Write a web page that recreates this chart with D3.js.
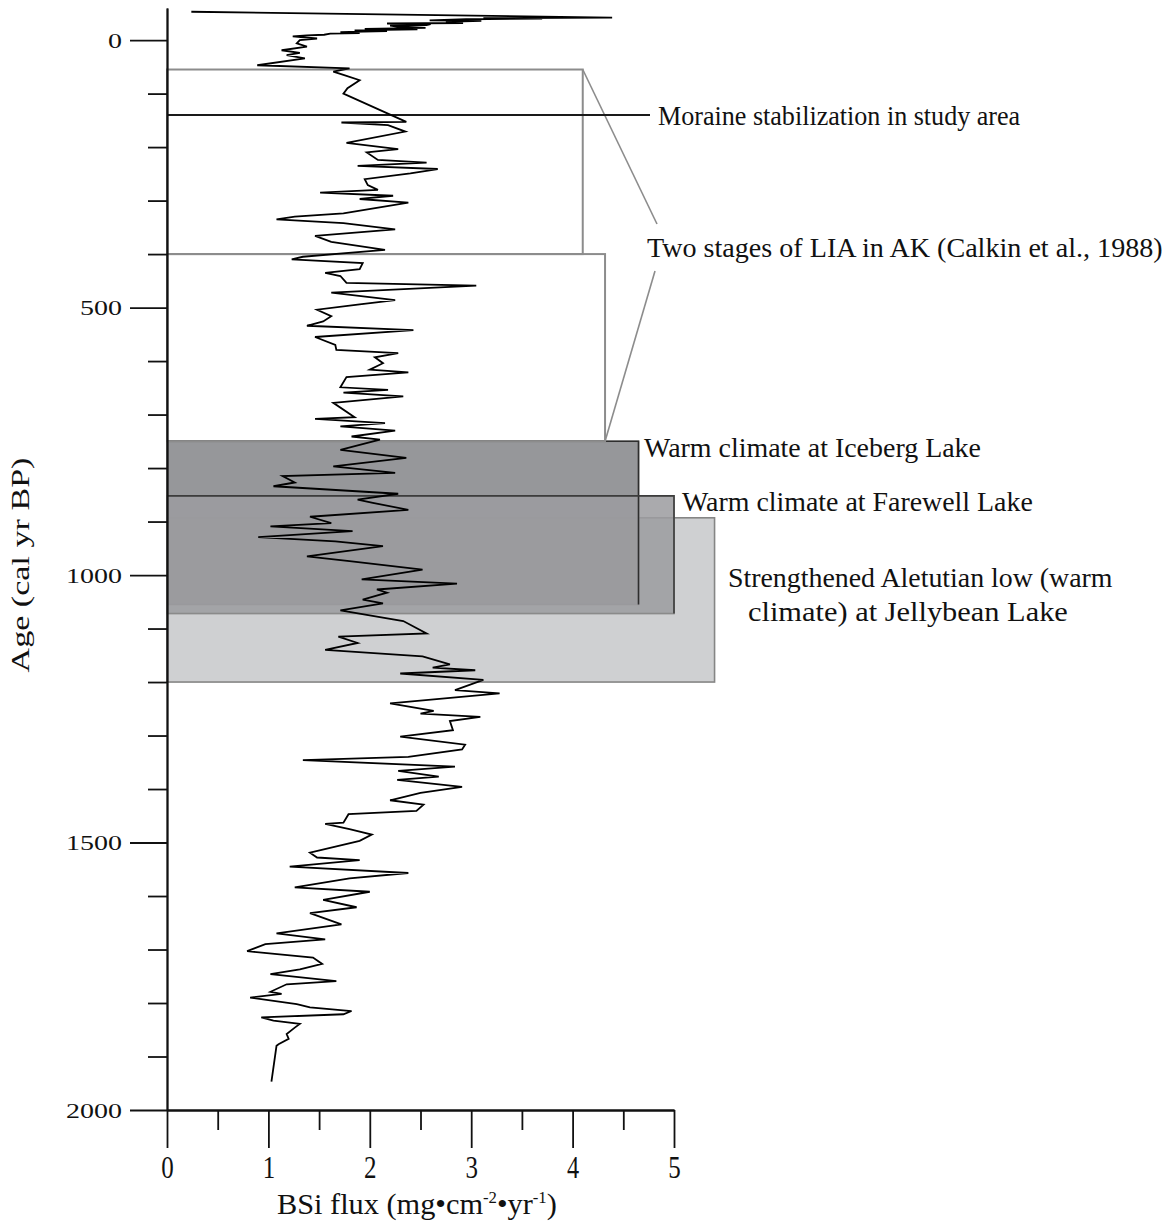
<!DOCTYPE html>
<html>
<head>
<meta charset="utf-8">
<script src="https://cdn.jsdelivr.net/npm/d3@7"></script>
<style>
  body { margin: 0; background: #fff; }
  svg { display: block; }
  text { font-family: "Liberation Serif", "Times New Roman", serif; fill: #111; }
</style>
</head>
<body>
<svg id="chart" width="1174" height="1225"></svg>
<script>
// Core record: age (cal yr BP) and biogenic silica flux (mg cm^-2 yr^-1)
const ageBP = [
  -53, -42, -41, -40, -39, -37, -36, -34, -32, -31, -30, -28, -27, -25, -23, -21, -20, -18, -17, -15,
  -13, -12, -10, -9, -7, -3, 0, 6, 12, 19, 24,
  28, 34, 47, 53, 59, 65, 75, 90, 100, 153, 154, 159, 171, 192, 204, 210, 224, 229, 235, 241,
  249, 260, 271, 280, 285, 291, 297, 304, 324, 330, 335, 342, 354, 366, 377, 392, 405, 410, 417, 428,
  435, 441, 454, 459, 472, 486, 494, 504, 516, 526, 534, 542, 555, 570, 579, 585, 593, 604, 616, 621,
  630, 649, 654, 659, 666, 678, 705, 708, 716, 722, 730, 741, 747, 766, 781, 797, 809, 815, 827, 834,
  848, 859, 865, 878, 891, 903, 909, 918, 929, 937, 946, 965, 974, 990, 1008, 1016, 1027, 1033, 1046, 1053,
  1066, 1086, 1109, 1115, 1127, 1140, 1152, 1167, 1173, 1178, 1184, 1196, 1215, 1221, 1240, 1254, 1259, 1265, 1273, 1290,
  1302, 1317, 1326, 1340, 1346, 1358, 1366, 1377, 1383, 1396, 1407, 1421, 1429, 1441, 1447, 1463, 1465, 1475, 1485, 1497,
  1519, 1528, 1533, 1545, 1557, 1567, 1584, 1592, 1607, 1621, 1632, 1653, 1670, 1681, 1690, 1703, 1715, 1727, 1737, 1746,
  1759, 1765, 1779, 1783, 1790, 1802, 1808, 1815, 1821, 1827, 1833, 1839, 1846, 1858, 1867, 1877, 1880, 1947
];
const bsiFlux = [
  0.24, 4.39, 3.12, 3.70, 2.95, 2.59, 3.10, 2.75, 2.92, 2.17, 2.60, 2.56, 2.20, 2.27, 2.55, 1.95, 2.47, 1.85, 2.17, 1.71,
  1.90, 1.61, 1.55, 1.38, 1.24, 1.48, 1.31, 1.28, 1.38, 1.13, 1.31,
  1.18, 1.36, 0.89, 1.80, 1.64, 1.74, 1.90, 1.78, 1.74, 2.36, 1.72, 2.18, 2.35, 1.77, 2.28, 1.97, 2.08, 2.56, 1.88, 2.67,
  2.40, 1.95, 1.98, 2.08, 1.51, 2.23, 1.90, 2.38, 1.74, 1.26, 1.08, 1.74, 2.25, 1.46, 1.62, 2.15, 1.34, 1.23, 1.93, 1.90,
  1.56, 1.71, 1.77, 3.05, 1.62, 2.25, 1.90, 1.48, 1.62, 1.54, 1.38, 2.43, 1.46, 1.66, 1.67, 2.28, 2.05, 2.13, 2.00, 2.38,
  1.77, 1.71, 2.18, 1.74, 2.33, 1.64, 1.85, 1.46, 2.15, 1.71, 2.25, 1.82, 2.10, 1.71, 2.36, 1.64, 2.25, 1.14, 1.26, 1.05,
  2.28, 1.88, 2.03, 2.38, 1.41, 1.62, 1.02, 1.83, 0.90, 1.66, 2.13, 1.38, 1.80, 2.52, 1.92, 2.86, 2.07, 2.17, 1.93, 2.13,
  1.71, 2.33, 2.56, 1.69, 1.88, 1.56, 2.52, 2.79, 2.62, 3.04, 2.30, 3.12, 2.84, 3.28, 2.20, 2.63, 2.50, 3.09, 2.79, 2.82,
  2.30, 2.94, 2.91, 2.38, 1.34, 2.84, 2.28, 2.68, 2.27, 2.91, 2.50, 2.20, 2.53, 2.46, 1.79, 1.74, 1.56, 1.80, 2.02, 1.90,
  1.41, 1.48, 1.90, 1.21, 2.38, 1.80, 1.26, 2.00, 1.54, 1.87, 1.41, 1.72, 1.08, 1.56, 0.97, 0.79, 1.44, 1.53, 1.31, 1.02,
  1.67, 1.18, 1.02, 1.13, 0.82, 1.28, 1.41, 1.82, 1.74, 0.93, 1.05, 1.31, 1.26, 1.18, 1.20, 1.10, 1.08, 1.03
];

// Axis ticks
const ageMajorTicks = [0, 500, 1000, 1500, 2000];
const ageMinorTicks = [100, 200, 300, 400, 600, 700, 800, 900, 1100, 1200, 1300, 1400, 1600, 1700, 1800, 1900];
const fluxMajorTicks = [0, 1, 2, 3, 4, 5];
const fluxMinorTicks = [0.5, 1.5, 2.5, 3.5, 4.5];

// Two stages of the Little Ice Age (outlined intervals)
const liaStart = [55, 400];
const liaEnd = [400, 750];
const liaRight = [4.1, 4.32];

// Warm-climate intervals at other lakes (shaded boxes), drawn in this order
const warmNames = ["Jellybean", "Iceberg", "Farewell"];
const warmStart = [893, 750, 852];
const warmEnd = [1200, 1055, 1072];
const warmRight = [5.4, 4.65, 5.0];

const moraineAge = 140;

const svg = d3.select("#chart");
const x = d3.scaleLinear().domain([0, 5]).range([167, 674]);
const y = d3.scaleLinear().domain([-60, 2000]).range([8, 1110]);

// Shaded warm intervals
const warmFill = ["#cfd0d2", "#8e8f92", "#9c9c9f"];
const warmOpacity = [1, 0.93, 0.86];
const warmStroke = ["#858585", "#8a8a8a", "#8a8a8a"];
const warmEdge = [null, "#2e2e2e", "#3c3c3c"];
warmNames.forEach((name, i) => {
  const x0 = x(0), x1 = x(warmRight[i]), y0 = y(warmStart[i]), y1 = y(warmEnd[i]);
  svg.append("rect")
    .attr("x", x0).attr("y", y0)
    .attr("width", x1 - x0).attr("height", y1 - y0)
    .attr("fill", warmFill[i]).attr("fill-opacity", warmOpacity[i])
    .attr("stroke", warmStroke[i]).attr("stroke-width", 1.6);
});
// Dark top and right edges of the Iceberg and Farewell boxes
warmNames.forEach((name, i) => {
  if (!warmEdge[i]) return;
  const x0 = x(0), x1 = x(warmRight[i]), y0 = y(warmStart[i]), y1 = y(warmEnd[i]);
  svg.append("path")
    .attr("d", `M${x0},${y0}H${x1}V${y1}`)
    .attr("fill", "none").attr("stroke", warmEdge[i]).attr("stroke-width", 1.6);
});

// LIA outlines
liaStart.forEach((s, i) => {
  svg.append("rect")
    .attr("x", x(0)).attr("y", y(s))
    .attr("width", x(liaRight[i]) - x(0)).attr("height", y(liaEnd[i]) - y(s))
    .attr("fill", "none").attr("stroke", "#8c8c8c").attr("stroke-width", 2);
});
// Leader lines from the LIA boxes to their label
svg.append("line")
  .attr("x1", x(liaRight[0])).attr("y1", y(liaStart[0]))
  .attr("x2", 657).attr("y2", 224)
  .attr("stroke", "#8c8c8c").attr("stroke-width", 1.6);
svg.append("line")
  .attr("x1", x(liaRight[1])).attr("y1", y(liaEnd[1]))
  .attr("x2", 655).attr("y2", 271)
  .attr("stroke", "#8c8c8c").attr("stroke-width", 1.6);

// Moraine stabilization marker
svg.append("line")
  .attr("x1", x(0)).attr("x2", 650)
  .attr("y1", y(moraineAge)).attr("y2", y(moraineAge))
  .attr("stroke", "#1a1a1a").attr("stroke-width", 2);

// BSi flux curve
const series = ageBP.map((a, i) => ({ age: a, flux: bsiFlux[i] }));
svg.append("path")
  .datum(series)
  .attr("fill", "none")
  .attr("stroke", "#000")
  .attr("stroke-width", 1.8)
  .attr("stroke-linejoin", "miter")
  .attr("d", d3.line().x(d => x(d.flux)).y(d => y(d.age)));

// Horizontal scaling helper for text (keeps anchor point fixed)
function squeeze(node, targetWidth, ax, ay, extra) {
  const w = node.getBBox().width;
  const sx = targetWidth / w;
  node.setAttribute("transform", `translate(${ax},${ay}) ${extra || ""} scale(${sx},1) translate(${-ax},${-ay})`);
}

// Age axis
const yMinor = svg.append("g").attr("transform", `translate(${x(0)},0)`)
  .call(d3.axisLeft(y).tickValues(ageMinorTicks).tickSize(19).tickSizeOuter(0).tickFormat(""));
const yMajor = svg.append("g").attr("transform", `translate(${x(0)},0)`)
  .call(d3.axisLeft(y).tickValues(ageMajorTicks).tickSize(37).tickSizeOuter(0).tickPadding(8).tickFormat(d3.format("d")));
[yMinor, yMajor].forEach(g => {
  g.selectAll("path, line").attr("stroke", "#111").attr("stroke-width", 1.8);
});
yMajor.selectAll("text")
  .attr("font-size", 22).attr("font-family", "Liberation Serif").attr("fill", "#111")
  .each(function(d) {
    const n = String(d).length;
    const ax = +this.getAttribute("x");
    squeeze(this, n * 14, ax, 0);
  });

// Flux axis
const xMinor = svg.append("g").attr("transform", `translate(0,${y(2000)})`)
  .call(d3.axisBottom(x).tickValues(fluxMinorTicks).tickSize(20).tickSizeOuter(0).tickFormat(""));
const xMajor = svg.append("g").attr("transform", `translate(0,${y(2000)})`)
  .call(d3.axisBottom(x).tickValues(fluxMajorTicks).tickSize(38).tickSizeOuter(0).tickPadding(8).tickFormat(d3.format("d")));
[xMinor, xMajor].forEach(g => {
  g.selectAll("path, line").attr("stroke", "#111").attr("stroke-width", 1.8);
});
xMajor.selectAll("text")
  .attr("font-size", 31).attr("font-family", "Liberation Serif").attr("fill", "#111")
  .each(function() { squeeze(this, 12.5, 0, 0); });

// Axis titles
const yTitle = svg.append("text")
  .attr("text-anchor", "middle").attr("font-size", 25)
  .attr("transform", "translate(29,565) rotate(-90)")
  .text("Age (cal yr BP)");
yTitle.attr("transform", `translate(29,565) rotate(-90) scale(${215 / yTitle.node().getBBox().width},1)`);

const xTitle = svg.append("text")
  .attr("x", 277).attr("y", 1214).attr("font-size", 29);
xTitle.append("tspan").text("BSi flux (mg\u2022cm");
xTitle.append("tspan").attr("font-size", 16).attr("dy", -11).text("-2");
xTitle.append("tspan").attr("dy", 11).text("\u2022yr");
xTitle.append("tspan").attr("font-size", 16).attr("dy", -11).text("-1");
xTitle.append("tspan").attr("dy", 11).text(")");
squeeze(xTitle.node(), 280, 277, 1214);

// Annotations
const noteText = [
  "Moraine stabilization in study area",
  "Two stages of LIA in AK (Calkin et al., 1988)",
  "Warm climate at Iceberg Lake",
  "Warm climate at Farewell Lake",
  "Strengthened Aletutian low (warm",
  "climate) at Jellybean Lake"
];
const noteX = [658, 647, 644, 682, 728, 748];
const noteY = [125, 257, 457, 511, 587, 621];
const noteW = [363, 516, 337, 351, 385, 320];
noteText.forEach((t, i) => {
  const el = svg.append("text")
    .attr("x", noteX[i]).attr("y", noteY[i])
    .attr("font-size", 28)
    .text(t);
  squeeze(el.node(), noteW[i], noteX[i], noteY[i]);
});
</script>
</body>
</html>
